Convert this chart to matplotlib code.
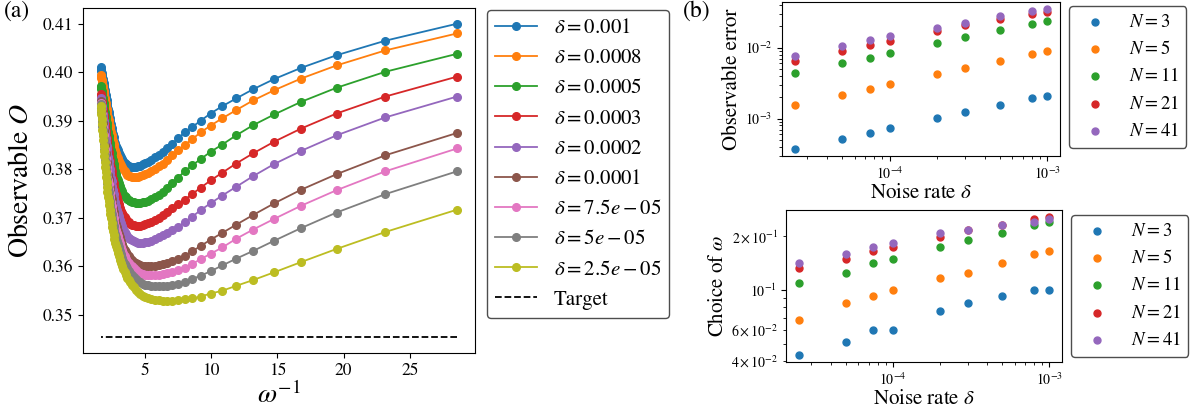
import matplotlib
matplotlib.use("Agg")
import matplotlib.pyplot as plt
import numpy as np

plt.rcParams['font.family'] = ['STIXGeneral', 'DejaVu Serif']
plt.rcParams['mathtext.fontset'] = 'stix'

# ---------------- panel (a) data ----------------
omega = [0.03500, 0.04319, 0.05138, 0.05957, 0.06775, 0.07594, 0.08413, 0.09232, 0.10051, 0.10870,
         0.11688, 0.12507, 0.13326, 0.14145, 0.14964, 0.15783, 0.16601, 0.17420, 0.18239, 0.19058,
         0.19877, 0.20696, 0.21514, 0.22333, 0.23152, 0.23971, 0.24790, 0.25609, 0.26428, 0.27246,
         0.28065, 0.28884, 0.29703, 0.30522, 0.31341, 0.32159, 0.32978, 0.33797, 0.34616, 0.35435,
         0.36254, 0.37072, 0.37891, 0.38710, 0.39529, 0.40348, 0.41167, 0.41986, 0.42804, 0.43623,
         0.44442, 0.45261, 0.46080, 0.46899, 0.47717, 0.48536, 0.49355, 0.50174, 0.50993, 0.51812,
         0.52630, 0.53449, 0.54268, 0.55087, 0.55906, 0.56725, 0.57543, 0.58362, 0.59181, 0.60000]

delta_labels = ['0.001', '0.0008', '0.0005', '0.0003', '0.0002', '0.0001', '7.5e-05', '5e-05', '2.5e-05']

obs_d1000 = [0.4100, 0.4065, 0.4035, 0.4009, 0.3986, 0.3965, 0.3946, 0.3930, 0.3915, 0.3900,
             0.3887, 0.3876, 0.3864, 0.3853, 0.3843, 0.3836, 0.3830, 0.3825, 0.3820, 0.3816,
             0.3813, 0.3810, 0.3807, 0.3806, 0.3805, 0.3804, 0.3804, 0.3805, 0.3806, 0.3808,
             0.3811, 0.3814, 0.3817, 0.3821, 0.3825, 0.3829, 0.3834, 0.3839, 0.3844, 0.3849,
             0.3854, 0.3859, 0.3866, 0.3873, 0.3879, 0.3886, 0.3893, 0.3900, 0.3906, 0.3913,
             0.3919, 0.3925, 0.3931, 0.3937, 0.3942, 0.3948, 0.3953, 0.3959, 0.3964, 0.3969,
             0.3974, 0.3978, 0.3983, 0.3987, 0.3991, 0.3995, 0.3999, 0.4003, 0.4006, 0.4010]
obs_d0800 = [0.4080, 0.4045, 0.4014, 0.3987, 0.3963, 0.3942, 0.3922, 0.3905, 0.3890, 0.3876,
             0.3862, 0.3850, 0.3839, 0.3829, 0.3820, 0.3812, 0.3806, 0.3801, 0.3797, 0.3793,
             0.3790, 0.3788, 0.3786, 0.3785, 0.3784, 0.3784, 0.3785, 0.3786, 0.3787, 0.3789,
             0.3792, 0.3796, 0.3800, 0.3804, 0.3808, 0.3813, 0.3818, 0.3823, 0.3828, 0.3834,
             0.3840, 0.3846, 0.3852, 0.3859, 0.3865, 0.3871, 0.3877, 0.3883, 0.3889, 0.3896,
             0.3902, 0.3908, 0.3914, 0.3920, 0.3925, 0.3931, 0.3936, 0.3942, 0.3947, 0.3952,
             0.3957, 0.3962, 0.3967, 0.3971, 0.3976, 0.3980, 0.3984, 0.3988, 0.3992, 0.3995]
obs_d0500 = [0.4038, 0.4001, 0.3968, 0.3939, 0.3913, 0.3891, 0.3870, 0.3851, 0.3836, 0.3821,
             0.3808, 0.3796, 0.3783, 0.3772, 0.3762, 0.3754, 0.3747, 0.3742, 0.3738, 0.3735,
             0.3733, 0.3732, 0.3731, 0.3731, 0.3731, 0.3732, 0.3733, 0.3734, 0.3736, 0.3739,
             0.3742, 0.3746, 0.3750, 0.3755, 0.3760, 0.3765, 0.3771, 0.3777, 0.3783, 0.3790,
             0.3797, 0.3804, 0.3811, 0.3819, 0.3826, 0.3833, 0.3840, 0.3848, 0.3855, 0.3862,
             0.3869, 0.3876, 0.3883, 0.3889, 0.3895, 0.3901, 0.3907, 0.3913, 0.3919, 0.3925,
             0.3931, 0.3937, 0.3942, 0.3947, 0.3952, 0.3957, 0.3961, 0.3965, 0.3969, 0.3972]
obs_d0300 = [0.3991, 0.3950, 0.3915, 0.3884, 0.3857, 0.3833, 0.3812, 0.3793, 0.3777, 0.3762,
             0.3749, 0.3737, 0.3728, 0.3720, 0.3713, 0.3706, 0.3700, 0.3696, 0.3692, 0.3689,
             0.3687, 0.3685, 0.3684, 0.3684, 0.3684, 0.3685, 0.3686, 0.3688, 0.3691, 0.3694,
             0.3697, 0.3701, 0.3705, 0.3710, 0.3715, 0.3721, 0.3728, 0.3735, 0.3742, 0.3750,
             0.3757, 0.3764, 0.3772, 0.3780, 0.3788, 0.3796, 0.3804, 0.3812, 0.3820, 0.3828,
             0.3835, 0.3843, 0.3850, 0.3858, 0.3865, 0.3872, 0.3879, 0.3886, 0.3893, 0.3900,
             0.3906, 0.3912, 0.3918, 0.3924, 0.3930, 0.3936, 0.3941, 0.3946, 0.3951, 0.3956]
obs_d0200 = [0.3950, 0.3907, 0.3870, 0.3838, 0.3811, 0.3786, 0.3764, 0.3746, 0.3730, 0.3716,
             0.3702, 0.3691, 0.3682, 0.3675, 0.3669, 0.3664, 0.3660, 0.3656, 0.3653, 0.3651,
             0.3650, 0.3649, 0.3649, 0.3649, 0.3650, 0.3652, 0.3654, 0.3656, 0.3659, 0.3662,
             0.3666, 0.3671, 0.3677, 0.3683, 0.3689, 0.3696, 0.3703, 0.3710, 0.3717, 0.3725,
             0.3733, 0.3741, 0.3749, 0.3758, 0.3766, 0.3775, 0.3783, 0.3792, 0.3800, 0.3809,
             0.3817, 0.3825, 0.3833, 0.3841, 0.3849, 0.3857, 0.3864, 0.3872, 0.3879, 0.3886,
             0.3893, 0.3900, 0.3907, 0.3913, 0.3919, 0.3925, 0.3931, 0.3936, 0.3942, 0.3947]
obs_d0100 = [0.3875, 0.3829, 0.3790, 0.3758, 0.3730, 0.3706, 0.3686, 0.3669, 0.3655, 0.3642,
             0.3631, 0.3622, 0.3615, 0.3611, 0.3607, 0.3605, 0.3603, 0.3601, 0.3600, 0.3600,
             0.3600, 0.3601, 0.3603, 0.3605, 0.3607, 0.3610, 0.3614, 0.3617, 0.3621, 0.3625,
             0.3629, 0.3634, 0.3640, 0.3646, 0.3653, 0.3660, 0.3667, 0.3674, 0.3681, 0.3688,
             0.3696, 0.3704, 0.3712, 0.3721, 0.3729, 0.3738, 0.3746, 0.3755, 0.3763, 0.3772,
             0.3781, 0.3789, 0.3798, 0.3807, 0.3816, 0.3825, 0.3833, 0.3843, 0.3851, 0.3860,
             0.3869, 0.3878, 0.3886, 0.3895, 0.3903, 0.3911, 0.3919, 0.3926, 0.3933, 0.3940]
obs_d0075 = [0.3843, 0.3796, 0.3757, 0.3725, 0.3698, 0.3676, 0.3657, 0.3639, 0.3626, 0.3615,
             0.3605, 0.3597, 0.3592, 0.3589, 0.3586, 0.3584, 0.3583, 0.3582, 0.3582, 0.3583,
             0.3583, 0.3585, 0.3587, 0.3589, 0.3592, 0.3596, 0.3600, 0.3603, 0.3608, 0.3612,
             0.3616, 0.3622, 0.3628, 0.3634, 0.3641, 0.3648, 0.3655, 0.3662, 0.3669, 0.3676,
             0.3683, 0.3691, 0.3699, 0.3708, 0.3716, 0.3725, 0.3733, 0.3742, 0.3751, 0.3760,
             0.3769, 0.3777, 0.3786, 0.3796, 0.3805, 0.3814, 0.3823, 0.3832, 0.3842, 0.3851,
             0.3861, 0.3870, 0.3879, 0.3888, 0.3897, 0.3906, 0.3914, 0.3922, 0.3930, 0.3937]
obs_d0050 = [0.3796, 0.3749, 0.3711, 0.3679, 0.3653, 0.3632, 0.3616, 0.3602, 0.3590, 0.3581,
             0.3574, 0.3567, 0.3563, 0.3561, 0.3560, 0.3559, 0.3559, 0.3559, 0.3559, 0.3561,
             0.3562, 0.3564, 0.3567, 0.3570, 0.3574, 0.3578, 0.3582, 0.3587, 0.3591, 0.3596,
             0.3600, 0.3606, 0.3612, 0.3618, 0.3625, 0.3632, 0.3639, 0.3646, 0.3653, 0.3660,
             0.3667, 0.3675, 0.3683, 0.3692, 0.3700, 0.3709, 0.3717, 0.3726, 0.3735, 0.3744,
             0.3753, 0.3762, 0.3771, 0.3781, 0.3791, 0.3800, 0.3809, 0.3820, 0.3830, 0.3840,
             0.3850, 0.3860, 0.3870, 0.3880, 0.3890, 0.3900, 0.3909, 0.3918, 0.3926, 0.3934]
obs_d0025 = [0.3717, 0.3671, 0.3636, 0.3609, 0.3588, 0.3572, 0.3560, 0.3550, 0.3544, 0.3538,
             0.3534, 0.3532, 0.3530, 0.3529, 0.3529, 0.3529, 0.3530, 0.3531, 0.3533, 0.3535,
             0.3537, 0.3540, 0.3544, 0.3548, 0.3552, 0.3557, 0.3562, 0.3567, 0.3572, 0.3577,
             0.3582, 0.3588, 0.3594, 0.3600, 0.3607, 0.3614, 0.3621, 0.3628, 0.3635, 0.3642,
             0.3649, 0.3657, 0.3665, 0.3673, 0.3681, 0.3690, 0.3699, 0.3708, 0.3717, 0.3726,
             0.3735, 0.3744, 0.3754, 0.3764, 0.3774, 0.3784, 0.3794, 0.3805, 0.3816, 0.3827,
             0.3838, 0.3849, 0.3860, 0.3871, 0.3882, 0.3893, 0.3903, 0.3913, 0.3922, 0.3930]
target_value = 0.3454

obs_series = [obs_d1000, obs_d0800, obs_d0500, obs_d0300, obs_d0200,
              obs_d0100, obs_d0075, obs_d0050, obs_d0025]

# ---------------- panel (b) data ----------------
noise_rates = [2.5e-5, 5e-5, 7.5e-5, 1e-4, 2e-4, 3e-4, 5e-4, 8e-4, 1e-3]
N_values = [3, 5, 11, 21, 41]
err_N3 = [3.72e-4, 5.19e-4, 6.3e-4, 7.3e-4, 1.01e-3, 1.22e-3, 1.55e-3, 1.94e-3, 2.11e-3]
err_N5 = [1.53e-3, 2.16e-3, 2.62e-3, 3.04e-3, 4.2e-3, 5.15e-3, 6.52e-3, 8.24e-3, 8.98e-3]
err_N11 = [4.34e-3, 6.05e-3, 7.25e-3, 8.43e-3, 1.16e-2, 1.41e-2, 1.78e-2, 2.19e-2, 2.41e-2]
err_N21 = [6.45e-3, 8.99e-3, 1.10e-2, 1.24e-2, 1.71e-2, 2.06e-2, 2.52e-2, 3.02e-2, 3.22e-2]
err_N41 = [7.65e-3, 1.05e-2, 1.27e-2, 1.44e-2, 1.92e-2, 2.26e-2, 2.77e-2, 3.25e-2, 3.51e-2]
w_N3 = [0.04319, 0.05138, 0.05957, 0.05957, 0.07594, 0.08413, 0.09232, 0.10051, 0.10051]
w_N5 = [0.06775, 0.08413, 0.09232, 0.10051, 0.11688, 0.12507, 0.14145, 0.15783, 0.16601]
w_N11 = [0.10870, 0.12507, 0.14145, 0.14964, 0.17420, 0.19058, 0.20696, 0.23152, 0.23971]
w_N21 = [0.13326, 0.14964, 0.16601, 0.17420, 0.19877, 0.21514, 0.23152, 0.24790, 0.25609]
w_N41 = [0.14145, 0.15783, 0.17420, 0.18239, 0.20696, 0.21514, 0.23152, 0.23971, 0.24790]
err_series = [err_N3, err_N5, err_N11, err_N21, err_N41]
w_series = [w_N3, w_N5, w_N11, w_N21, w_N41]

# ---------------- figure ----------------
W, H = 1190, 413
fig = plt.figure(figsize=(W / 100, H / 100), dpi=100)

def px_axes(x0, y0, x1, y1):
    return fig.add_axes([x0 / W, 1 - y1 / H, (x1 - x0) / W, (y1 - y0) / H])

# panel (a)
axa = px_axes(83, 8, 475, 353)
inv_omega = 1.0 / np.array(omega)
for lab, ys in zip(delta_labels, obs_series):
    axa.plot(inv_omega, ys, '-o', ms=5.5, lw=1.3, label=r'$\delta=%s$' % lab)
axa.plot(inv_omega, np.full(len(omega), target_value), '--', color='black', lw=1.3, label='Target')
axa.set_xlabel(r'$\omega^{-1}$', fontsize=20, labelpad=2)
axa.set_ylabel(r'Observable $O$', fontsize=20, labelpad=6)
axa.set_xticks([5, 10, 15, 20, 25])
axa.set_yticks([0.35, 0.36, 0.37, 0.38, 0.39, 0.40, 0.41])
axa.tick_params(labelsize=12.5)
fig.legend(*axa.get_legend_handles_labels(), loc='upper left',
           bbox_to_anchor=(487 / W, 1 - 10 / H), borderaxespad=0, fontsize=15,
           edgecolor='0.3', fancybox=True, framealpha=1)

# panel (b) top
axb1 = px_axes(782, 2, 1060, 156)
for N, ys in zip(N_values, err_series):
    axb1.scatter(noise_rates, ys, s=25, label=r'$N=%d$' % N)
axb1.set_xscale('log')
axb1.set_yscale('log')
axb1.set_xlabel(r'Noise rate $\delta$', fontsize=15, labelpad=1)
axb1.set_ylabel('Observable error', fontsize=15, labelpad=2)
axb1.tick_params(labelsize=10)
fig.legend(*axb1.get_legend_handles_labels(), loc='upper left',
           bbox_to_anchor=(1069 / W, 1 - 6 / H), borderaxespad=0, fontsize=13.5,
           edgecolor='0.3', framealpha=1)

# panel (b) bottom
axb2 = px_axes(786, 210, 1062, 362)
for N, ys in zip(N_values, w_series):
    axb2.scatter(noise_rates, ys, s=25, label=r'$N=%d$' % N)
axb2.set_xscale('log')
axb2.set_yscale('log')
axb2.set_xlabel(r'Noise rate $\delta$', fontsize=15, labelpad=1)
axb2.set_ylabel(r'Choice of $\omega$', fontsize=15, labelpad=2)
axb2.tick_params(axis='both', which='both', labelsize=10)
fig.legend(*axb2.get_legend_handles_labels(), loc='upper left',
           bbox_to_anchor=(1071 / W, 1 - 215 / H), borderaxespad=0, fontsize=13.5,
           edgecolor='0.3', framealpha=1)

fig.text(4 / W, 1 - 0 / H, '(a)', fontsize=17, va='top', ha='left')
fig.text(683 / W, 1 - 0 / H, '(b)', fontsize=17, va='top', ha='left')

fig.savefig('out.png', dpi=100)
